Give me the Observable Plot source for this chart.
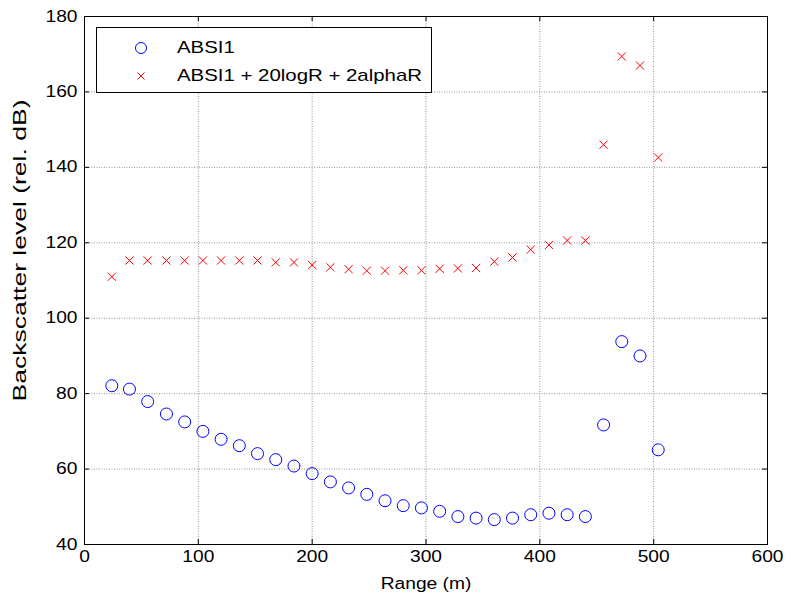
<!DOCTYPE html>
<html>
<head>
<meta charset="utf-8">
<script src="https://cdn.jsdelivr.net/npm/d3@7"></script>
<script src="https://cdn.jsdelivr.net/npm/@observablehq/plot@0.6"></script>
<style>
  html, body { margin: 0; padding: 0; background: #fff; }
  #wrap { position: relative; width: 787px; height: 602px; font-family: "Liberation Sans", Arial, sans-serif; }
  #legend { position: absolute; left: 96px; top: 27px; width: 336px; height: 66px; border: 1px solid #000; background: #fff; box-sizing: border-box; font-size: 17px; color: #000; }
  #legend .row { position: absolute; left: 0; height: 20px; width: 100%; }
  #legend svg { position: absolute; left: 34px; top: 0; }
  #legend span { position: absolute; left: 80px; top: 0; line-height: 20px; white-space: nowrap; transform: scaleX(1.2); transform-origin: 0 50%; }
</style>
</head>
<body>
<div id="wrap">
  <div id="chart"></div>
  <div id="legend">
    <div class="row" style="top:10px">
      <svg width="20" height="20" viewBox="-10 -10 20 20"><circle r="5.5" fill="none" stroke="#0000ff" stroke-width="1"/></svg>
      <span id="lab1"></span>
    </div>
    <div class="row" style="top:38px">
      <svg width="20" height="20" viewBox="-10 -10 20 20"><path d="M-3.5,-3.5L3.5,3.5M3.5,-3.5L-3.5,3.5" fill="none" stroke="#ff0000" stroke-width="1"/></svg>
      <span id="lab2"></span>
    </div>
  </div>
</div>
<script>
const seriesNames = ["ABSI1", "ABSI1 + 20logR + 2alphaR"];
const rangeM = [24, 39.5, 55.5, 72, 88, 104, 120, 136, 152, 168, 184, 200, 216, 232, 248, 264, 280, 296, 312, 328, 344, 360, 376, 392, 408, 424, 440, 456, 472, 488, 504];
const absi1 = [82.1, 81.2, 77.9, 74.6, 72.5, 70.0, 67.9, 66.2, 64.1, 62.5, 60.8, 58.8, 56.6, 55.0, 53.3, 51.6, 50.3, 49.7, 48.8, 47.4, 47.0, 46.6, 47.0, 47.9, 48.3, 47.9, 47.4, 71.7, 93.8, 90.0, 65.1];
const absiCorr = [111.0, 115.3, 115.3, 115.3, 115.3, 115.3, 115.3, 115.3, 115.3, 114.8, 114.8, 114.1, 113.5, 113.0, 112.6, 112.6, 112.7, 112.7, 113.1, 113.2, 113.3, 115.0, 116.1, 118.2, 119.4, 120.6, 120.6, 146.0, 169.4, 167.0, 142.6];
const xTicks = [0, 100, 200, 300, 400, 500, 600];
const yTicks = [40, 60, 80, 100, 120, 140, 160, 180];
const xLabel = "Range (m)";
const yLabel = "Backscatter level (rel. dB)";

document.getElementById("lab1").textContent = seriesNames[0];
document.getElementById("lab2").textContent = seriesNames[1];

const pts1 = rangeM.map((r, i) => ({r, v: absi1[i]}));
const pts2 = rangeM.map((r, i) => ({r, v: absiCorr[i]}));

const W = 787, H = 602, mL = 84, mR = 20, mT = 16, mB = 58;
const plotH = H - mT - mB, plotW = W - mL - mR;
const tick = 5;

const chart = Plot.plot({
  width: W,
  height: H,
  marginLeft: mL,
  marginRight: mR,
  marginTop: mT,
  marginBottom: mB,
  style: {fontFamily: "'Liberation Sans', Arial, sans-serif", fontSize: "16px", color: "#000", background: "#fff"},
  x: {domain: [0, 600], ticks: xTicks},
  y: {domain: [40, 180], ticks: yTicks},
  marks: [
    Plot.gridX(xTicks, {stroke: "#888", strokeOpacity: 0.9, strokeDasharray: "1,1.5"}),
    Plot.gridY(yTicks, {stroke: "#888", strokeOpacity: 0.9, strokeDasharray: "1,1.5"}),
    Plot.tickX(xTicks, {x: d => d, insetTop: plotH - tick, stroke: "#000"}),
    Plot.tickX(xTicks, {x: d => d, insetBottom: plotH - tick, stroke: "#000"}),
    Plot.tickY(yTicks, {y: d => d, insetRight: plotW - tick, stroke: "#000"}),
    Plot.tickY(yTicks, {y: d => d, insetLeft: plotW - tick, stroke: "#000"}),
    Plot.axisX(xTicks, {tickSize: 0, tickPadding: 6, label: xLabel, labelAnchor: "center", labelArrow: "none", labelOffset: 44, fontSize: 16}),
    Plot.axisY(yTicks, {tickSize: 0, tickPadding: 7, label: null, fontSize: 16}),
    Plot.text([yLabel], {frameAnchor: "left", dx: -64, dy: -30, rotate: -90, fontSize: 18, textAnchor: "middle", className: "ylab"}),
    Plot.frame({stroke: "#000", strokeWidth: 1}),
    Plot.dot(pts1, {x: "r", y: "v", r: 6, stroke: "#0000ff", strokeWidth: 1, fill: "none"}),
    Plot.dot(pts2, {x: "r", y: "v", symbol: "times", r: 3.8, stroke: "#ff0000", strokeWidth: 1})
  ]
});
document.getElementById("chart").appendChild(chart);

// widen glyphs along the reading direction to match the reference rendering
chart.querySelectorAll("text").forEach(t => {
  const len = t.getComputedTextLength();
  if (len > 0) {
    const isY = t.closest(".ylab") !== null;
    t.setAttribute("textLength", (isY ? 302 : len * 1.2).toFixed(1));
    t.setAttribute("lengthAdjust", "spacingAndGlyphs");
  }
});
</script>
</body>
</html>
